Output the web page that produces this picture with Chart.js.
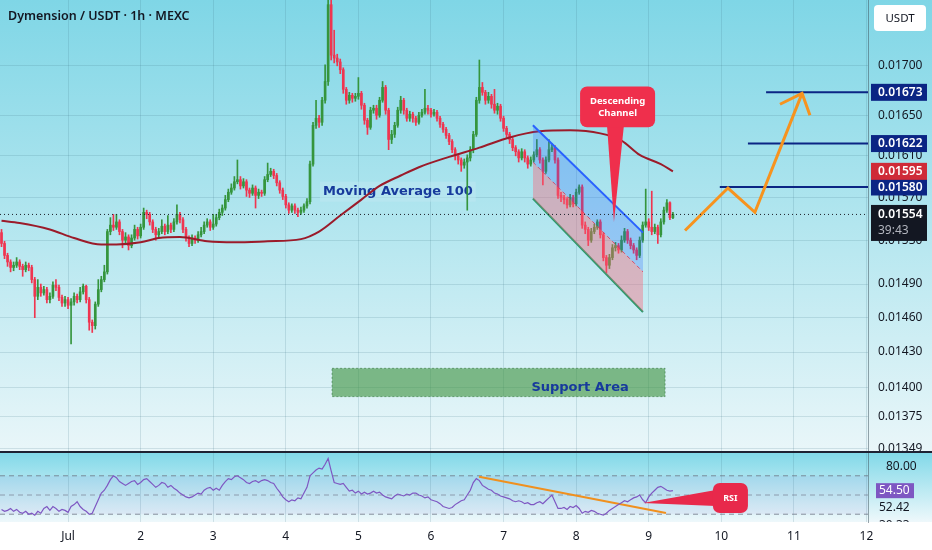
<!DOCTYPE html>
<html>
<head>
<meta charset="utf-8">
<title>Dymension / USDT 1h</title>
<script src="https://cdn.jsdelivr.net/npm/chart.js@4.4.1/dist/chart.umd.min.js"></script>
<style>
  html, body { margin: 0; padding: 0; background: #fff; }
  #wrap { position: relative; width: 932px; height: 550px; overflow: hidden; }
  #pricePane { position: absolute; left: 0; top: 0; width: 932px; height: 451px; }
  #rsiPane { position: absolute; left: 0; top: 451px; width: 932px; height: 99px; }
</style>
</head>
<body>
<div id="wrap">
  <div id="pricePane"><canvas id="priceChart"></canvas></div>
  <div id="rsiPane"><canvas id="rsiChart"></canvas></div>
</div>
<script>
// time axis: hours counted from Jul 1 00:00, one candle per hour
const firstHour = -22;
const dayLabels = ['Jul', '2', '3', '4', '5', '6', '7', '8', '9', '10', '11', '12'];
const priceTicks = [0.01349, 0.01375, 0.01400, 0.01430, 0.01460, 0.01490, 0.01530, 0.01570, 0.01610, 0.01650, 0.01700];

// candles, prices in 1e-5 USDT (open = previous close)
const firstOpenE5 = 1537;
const closeE5 = [
  1527,1516,1510,1505,1507,1510,1506,1503,1507,1505,
  1494,1479,1487,1482,1485,1476,1479,1489,1487,1478,
  1473,1476,1471,1474,1479,1476,1483,1488,1476,1456,
  1453,1472,1485,1494,1501,1538,1544,1542,1547,1538,
  1530,1533,1525,1532,1540,1534,1542,1556,1554,1547,
  1540,1535,1538,1543,1538,1544,1540,1547,1554,1549,
  1540,1532,1527,1532,1530,1535,1538,1544,1547,1542,
  1545,1551,1556,1560,1568,1575,1579,1585,1587,1581,
  1585,1577,1574,1579,1572,1575,1574,1587,1592,1595,
  1591,1584,1577,1571,1563,1558,1562,1558,1556,1558,
  1562,1566,1602,1640,1647,1643,1665,1684,1764,1711,
  1708,1704,1696,1676,1665,1670,1667,1669,1672,1660,
  1645,1638,1655,1657,1650,1665,1678,1655,1626,1631,
  1640,1655,1665,1655,1647,1651,1647,1643,1650,1653,
  1657,1655,1651,1653,1647,1641,1636,1630,1624,1616,
  1610,1606,1601,1604,1608,1616,1631,1665,1678,1673,
  1665,1669,1661,1655,1659,1647,1637,1631,1626,1618,
  1614,1608,1614,1608,1602,1606,1611,1616,1606,1595,
  1606,1616,1618,1606,1572,1570,1568,1563,1570,1564,
  1575,1580,1544,1540,1530,1538,1542,1547,1535,1514,
  1507,1514,1523,1525,1521,1530,1538,1530,1525,1521,
  1516,1530,1544,1547,1542,1538,1542,1535,1547,1558,
  1565,1551,1554
];
const highE5 = [
  1540,1529,1518,1512,1510,1514,1512,1508,1510,1509,
  1507,1496,1494,1490,1488,1487,1482,1492,1494,1489,
  1480,1479,1478,1477,1482,1481,1487,1490,1489,1478,
  1458,1474,1494,1497,1507,1540,1551,1554,1554,1549,
  1540,1537,1535,1535,1544,1542,1545,1560,1558,1556,
  1549,1542,1541,1549,1545,1553,1546,1550,1563,1556,
  1551,1542,1534,1535,1534,1538,1542,1547,1550,1549,
  1554,1554,1559,1563,1572,1578,1583,1590,1606,1590,
  1588,1587,1579,1582,1581,1578,1577,1590,1603,1598,
  1597,1593,1586,1579,1573,1565,1564,1564,1560,1561,
  1564,1569,1605,1643,1665,1650,1668,1701,1790,1790,
  1737,1712,1707,1698,1678,1673,1672,1672,1688,1674,
  1662,1647,1658,1660,1660,1668,1684,1680,1657,1635,
  1643,1658,1669,1667,1657,1654,1653,1649,1653,1656,
  1676,1660,1657,1656,1655,1649,1643,1638,1632,1626,
  1618,1612,1608,1607,1611,1619,1634,1668,1706,1683,
  1675,1673,1671,1676,1662,1661,1649,1639,1633,1628,
  1620,1616,1617,1616,1610,1609,1614,1626,1618,1608,
  1609,1626,1622,1620,1608,1575,1572,1570,1573,1572,
  1578,1582,1582,1547,1542,1541,1545,1549,1549,1537,
  1516,1517,1526,1528,1527,1534,1541,1540,1532,1527,
  1523,1533,1547,1578,1550,1576,1545,1544,1550,1561,
  1568,1566,1556
];
const lowE5 = [
  1524,1513,1506,1501,1502,1505,1503,1497,1501,1502,
  1491,1460,1476,1479,1480,1473,1473,1477,1484,1475,
  1470,1470,1468,1437,1471,1473,1474,1481,1473,1449,
  1447,1450,1470,1483,1492,1499,1535,1539,1540,1535,
  1523,1527,1521,1523,1530,1531,1532,1540,1550,1544,
  1537,1530,1533,1536,1535,1536,1537,1538,1545,1546,
  1537,1529,1524,1525,1527,1528,1533,1536,1542,1539,
  1540,1543,1549,1553,1558,1566,1573,1577,1583,1578,
  1579,1571,1570,1572,1560,1569,1571,1572,1585,1590,
  1588,1581,1574,1568,1560,1555,1556,1555,1552,1554,
  1556,1560,1564,1600,1637,1638,1640,1662,1680,1706,
  1703,1700,1692,1672,1661,1662,1663,1664,1666,1656,
  1641,1631,1636,1652,1646,1648,1663,1651,1616,1622,
  1628,1638,1652,1651,1644,1644,1643,1640,1641,1648,
  1651,1651,1648,1649,1644,1638,1633,1627,1621,1613,
  1606,1602,1595,1598,1558,1605,1613,1629,1662,1670,
  1661,1662,1657,1652,1651,1644,1634,1628,1622,1615,
  1610,1604,1606,1604,1598,1600,1604,1609,1603,1582,
  1593,1604,1614,1603,1569,1566,1564,1560,1561,1561,
  1562,1573,1541,1536,1525,1528,1536,1540,1532,1511,
  1500,1504,1512,1520,1518,1519,1528,1527,1522,1518,
  1512,1514,1528,1542,1539,1535,1536,1527,1533,1545,
  1556,1549,1550
];

// RSI(14), one value per candle
const rsi = [
  35,33,34,36,33,35,32,31,33,30,
  31,29,33,31,36,38,34,38,36,33,
  35,34,32,38,40,43,38,35,33,30,
  31,38,45,52,55,60,66,70,68,64,
  62,60,62,64,65,61,63,66,67,64,
  61,58,60,63,62,58,60,57,55,52,
  50,48,47,48,50,52,51,55,57,58,
  55,57,55,60,64,67,66,69,70,68,
  66,63,62,64,65,63,65,66,65,63,
  62,57,53,48,45,43,45,44,47,46,
  52,58,70,73,76,78,77,82,88,75,
  63,62,61,62,58,54,55,52,54,51,
  53,51,52,54,52,53,50,48,47,46,
  49,51,50,49,51,50,52,52,50,49,
  47,48,45,44,43,41,38,37,36,37,
  40,42,44,45,50,55,63,67,65,60,
  58,56,55,52,51,49,48,47,46,44,
  43,44,43,41,42,40,40,42,43,41,
  44,47,50,43,36,36,37,35,38,37,
  39,36,31,33,32,34,33,31,30,29,
  31,34,36,38,40,42,44,43,45,47,
  48,50,45,42,48,52,55,58,59,57,
  55,54,54.5
];
const rsiLevels = [70, 50, 30];
const rsiTrendHours = [135.9, 197.7];
const rsiTrendValues = [69, 31.3];

// moving average 100
const maHours = [-22, -16, -6, 2, 11, 16, 24, 30, 37, 46, 55, 66, 77, 83, 90, 97, 103, 110, 116, 126, 136, 146, 156, 166, 176, 183, 189, 196, 200];
const maValues = [0.01548, 0.01546, 0.01540, 0.01532, 0.01526, 0.01526, 0.01528, 0.01532, 0.01533, 0.01529, 0.01528, 0.01529, 0.01531, 0.01538, 0.01553, 0.01568, 0.01581, 0.01591, 0.01599, 0.01609, 0.01618, 0.01628, 0.01634, 0.01635, 0.01632, 0.01625, 0.01611, 0.01602, 0.01595];

// drawings
const channelHours = [153.7, 190.1];
const channelUpper = [0.01640, 0.01537];
const channelMid = [0.01604, 0.01501];
const channelLower = [0.01569, 0.01465];
const projHours = [204, 218.2, 227.1, 242.7];
const projValues = [0.01539, 0.01579, 0.01556, 0.01672];
const arrowHours = [235.4, 242.7, 245.3];
const arrowValues = [0.01661, 0.01672, 0.01650];
const targetPrices = [0.01673, 0.01622, 0.01580];
const targetFrom = [230.8, 224.8, 215.5];
const supportZone = { from: 87.3, to: 197.4, top: 0.01416, bottom: 0.01392, labelHour: 169.3, labelPrice: 0.01400 };
const maNote = { hour: 84.3, price: 0.015755, text: 'Moving Average 100' };
const channelNote = { from: 169.3, to: 194.1, top: 0.01679, bottom: 0.01638, stemFrom: 178.2, stemTo: 183.8, tipHour: 180.5, tipPrice: 0.01547 };
const rsiNote = { from: 213.2, to: 224.8, top: 62.5, bottom: 31.3, stemTop: 55.2, stemBottom: 38.6, tipHour: 190.1, tipValue: 41.7 };

const close = closeE5.map(v => v / 1e5);
const high = highE5.map(v => v / 1e5);
const low = lowE5.map(v => v / 1e5);
const open = close.map((c, i) => (i === 0 ? firstOpenE5 / 1e5 : close[i - 1]));
const hours = close.map((_, i) => firstHour + i);
const dayTicks = dayLabels.map((_, i) => i * 24);
const lastClose = close[close.length - 1];

const X_MIN = -22.5, X_MAX = 264.5;
const gridColor = 'rgba(60,110,130,0.17)';
const up = '#35953d', down = '#ef3550';
const navy = '#0b2584';
const barColors = close.map((c, i) => (c >= open[i] ? up : down));

Chart.defaults.font.family = "'Noto Sans', 'DejaVu Sans', sans-serif";
Chart.defaults.font.size = 12;
Chart.defaults.color = '#131722';

const pts = (xs, ys) => xs.map((x, i) => ({ x, y: ys[i] }));
const hline = (from, to, v) => [{ x: from, y: v }, { x: to, y: v }];
const lineSet = (data, color, width, extra) => Object.assign({
  type: 'line', data, borderColor: color, borderWidth: width,
  pointRadius: 0, pointHoverRadius: 0, fill: false, tension: 0
}, extra);

function rrect(ctx, x, y, w, h, r) {
  ctx.beginPath();
  ctx.moveTo(x + r, y);
  ctx.arcTo(x + w, y, x + w, y + h, r);
  ctx.arcTo(x + w, y + h, x, y + h, r);
  ctx.arcTo(x, y + h, x, y, r);
  ctx.arcTo(x, y, x + w, y, r);
  ctx.closePath();
}

const paneBg = {
  id: 'paneBg',
  beforeDraw(chart, args, o) {
    const { ctx, width, height, chartArea } = chart;
    ctx.save();
    ctx.fillStyle = o.base;
    ctx.fillRect(0, 0, width, height);
    const g = ctx.createLinearGradient(0, 0, 0, chartArea.bottom);
    o.stops.forEach(s => g.addColorStop(s[0], s[1]));
    ctx.fillStyle = g;
    ctx.fillRect(0, 0, width, chartArea.bottom);
    ctx.restore();
  }
};

function axisTag(ctx, area, yPix, bg, text) {
  ctx.fillStyle = bg;
  ctx.fillRect(area.right + 3, yPix - 8.5, 56, 17);
  ctx.fillStyle = '#ffffff';
  ctx.font = "600 12px 'Noto Sans'";
  ctx.textAlign = 'left';
  ctx.textBaseline = 'middle';
  ctx.fillText(text, area.right + 10, yPix + 0.5);
}

const priceOverlay = {
  id: 'priceOverlay',
  beforeDatasetsDraw(chart) {
    const { ctx, scales: { x, y } } = chart;
    ctx.save();
    // support area
    const sx0 = x.getPixelForValue(supportZone.from), sx1 = x.getPixelForValue(supportZone.to);
    const sy0 = y.getPixelForValue(supportZone.top), sy1 = y.getPixelForValue(supportZone.bottom);
    ctx.fillStyle = 'rgba(60,145,60,0.6)';
    ctx.fillRect(sx0, sy0, sx1 - sx0, sy1 - sy0);
    ctx.setLineDash([2, 2]);
    ctx.strokeStyle = 'rgba(40,110,50,0.55)';
    ctx.lineWidth = 1;
    ctx.strokeRect(sx0, sy0, sx1 - sx0, sy1 - sy0);
    ctx.setLineDash([]);
    ctx.font = "bold 13px 'DejaVu Sans'";
    ctx.fillStyle = '#173a9c';
    ctx.textAlign = 'center';
    ctx.textBaseline = 'middle';
    ctx.fillText('Support Area', x.getPixelForValue(supportZone.labelHour), y.getPixelForValue(supportZone.labelPrice));
    // MA label
    const mx = x.getPixelForValue(maNote.hour), my = y.getPixelForValue(maNote.price);
    const tw = ctx.measureText(maNote.text).width;
    ctx.fillStyle = 'rgba(190,232,242,0.55)';
    ctx.fillRect(mx - 3, my - 10, tw + 6, 20);
    ctx.fillStyle = '#173a9c';
    ctx.textAlign = 'left';
    ctx.fillText(maNote.text, mx, my);
    ctx.restore();
  },
  afterDatasetsDraw(chart) {
    const { ctx, scales: { x, y } } = chart;
    const n = channelNote;
    const bx0 = x.getPixelForValue(n.from), bx1 = x.getPixelForValue(n.to);
    const by0 = y.getPixelForValue(n.top), by1 = y.getPixelForValue(n.bottom);
    ctx.save();
    ctx.fillStyle = '#ef2f4c';
    ctx.beginPath();
    ctx.moveTo(x.getPixelForValue(n.stemFrom), by1 - 2);
    ctx.lineTo(x.getPixelForValue(n.tipHour), y.getPixelForValue(n.tipPrice));
    ctx.lineTo(x.getPixelForValue(n.stemTo), by1 - 2);
    ctx.closePath();
    ctx.fill();
    rrect(ctx, bx0, by0, bx1 - bx0, by1 - by0, 7);
    ctx.fill();
    ctx.fillStyle = '#ffffff';
    ctx.font = "bold 9.5px 'Noto Sans'";
    ctx.textAlign = 'center';
    ctx.textBaseline = 'middle';
    const cx = (bx0 + bx1) / 2;
    ctx.fillText('Descending', cx, by0 + 15);
    ctx.fillText('Channel', cx, by0 + 27);
    ctx.restore();
  },
  afterDraw(chart) {
    const { ctx, chartArea, scales: { y }, width } = chart;
    ctx.save();
    targetPrices.forEach(p => axisTag(ctx, chartArea, y.getPixelForValue(p), navy, p.toFixed(5)));
    const maLast = maValues[maValues.length - 1];
    axisTag(ctx, chartArea, y.getPixelForValue(maLast), '#cf2b38', maLast.toFixed(5));
    // last price with bar countdown
    const ly = y.getPixelForValue(lastClose);
    ctx.fillStyle = '#131722';
    ctx.fillRect(chartArea.right + 3, ly - 9.5, 56, 36);
    ctx.fillStyle = '#ffffff';
    ctx.font = "600 12px 'Noto Sans'";
    ctx.textAlign = 'left';
    ctx.textBaseline = 'middle';
    ctx.fillText(lastClose.toFixed(5), chartArea.right + 10, ly);
    ctx.fillStyle = '#b2b5be';
    ctx.font = "12px 'Noto Sans'";
    ctx.fillText('39:43', chartArea.right + 10, ly + 16);
    // currency button
    ctx.fillStyle = '#ffffff';
    rrect(ctx, chartArea.right + 6, 5, 52, 26, 4);
    ctx.fill();
    ctx.fillStyle = '#131722';
    ctx.textAlign = 'center';
    ctx.font = "11.5px 'Noto Sans'";
    ctx.fillText('USDT', chartArea.right + 32, 18.5);
    // title
    ctx.textAlign = 'left';
    ctx.font = "600 12.5px 'Noto Sans'";
    ctx.fillText('Dymension / USDT \u00b7 1h \u00b7 MEXC', 8, 16);
    ctx.restore();
  }
};

const rsiOverlay = {
  id: 'rsiOverlay',
  afterDatasetsDraw(chart) {
    const { ctx, scales: { x, y } } = chart;
    const n = rsiNote;
    const bx0 = x.getPixelForValue(n.from), bx1 = x.getPixelForValue(n.to);
    const by0 = y.getPixelForValue(n.top), by1 = y.getPixelForValue(n.bottom);
    ctx.save();
    ctx.fillStyle = '#e8294b';
    ctx.beginPath();
    ctx.moveTo(x.getPixelForValue(n.tipHour), y.getPixelForValue(n.tipValue));
    ctx.lineTo(bx0 + 3, y.getPixelForValue(n.stemTop));
    ctx.lineTo(bx0 + 3, y.getPixelForValue(n.stemBottom));
    ctx.closePath();
    ctx.fill();
    rrect(ctx, bx0, by0, bx1 - bx0, by1 - by0, 7);
    ctx.fill();
    ctx.fillStyle = '#ffffff';
    ctx.font = "bold 9px 'Noto Sans'";
    ctx.textAlign = 'center';
    ctx.textBaseline = 'middle';
    ctx.fillText('RSI', (bx0 + bx1) / 2, (by0 + by1) / 2);
    ctx.restore();
  },
  afterDraw(chart) {
    const { ctx, chartArea, scales: { y }, width } = chart;
    ctx.save();
    ctx.fillStyle = '#ffffff';
    ctx.fillRect(chartArea.right + 5, chartArea.bottom + 1, width, 40);
    const last = rsi[rsi.length - 1];
    const ty = y.getPixelForValue(last);
    ctx.fillStyle = '#7e57c2';
    ctx.fillRect(chartArea.right + 8, ty - 7.5, 38, 15);
    ctx.fillStyle = '#ffffff';
    ctx.font = "12px 'Noto Sans'";
    ctx.textAlign = 'left';
    ctx.textBaseline = 'middle';
    ctx.fillText(last.toFixed(2), chartArea.right + 11, ty);
    ctx.fillStyle = '#131722';
    ctx.fillText('52.42', chartArea.right + 11, ty + 17);
    ctx.beginPath();
    ctx.rect(chartArea.right + 1, 0, 64, chartArea.bottom);
    ctx.clip();
    ctx.fillText('30.33', chartArea.right + 11, ty + 35);
    ctx.restore();
    ctx.save();
    ctx.strokeStyle = '#1e2233';
    ctx.lineWidth = 2;
    ctx.beginPath();
    ctx.moveTo(0, 1);
    ctx.lineTo(width, 1);
    ctx.stroke();
    ctx.restore();
  }
};

const xCommon = {
  type: 'linear', min: X_MIN, max: X_MAX, bounds: 'data', offset: false,
  afterBuildTicks: s => { s.ticks = dayTicks.map(v => ({ value: v })); },
  grid: { color: gridColor, drawTicks: false, offset: false },
  border: { display: false }
};

new Chart(document.getElementById('priceChart'), {
  type: 'bar',
  data: {
    datasets: [
      { type: 'bar', data: hours.map((h, i) => ({ x: h, y: [low[i], high[i]] })), backgroundColor: barColors, barThickness: 1, grouped: false, order: 10 },
      { type: 'bar', data: hours.map((h, i) => ({ x: h, y: [open[i], close[i]] })), backgroundColor: barColors, barThickness: 2, minBarLength: 1, grouped: false, order: 9 },
      lineSet(pts(maHours, maValues), '#9b1b2a', 2, { cubicInterpolationMode: 'monotone', order: 6 }),
      lineSet(hline(X_MIN, X_MAX, lastClose), '#1b1e27', 1, { borderDash: [1, 3], order: 1 }),
      lineSet(pts(channelHours, channelUpper), '#2962ff', 2, { fill: '+1', backgroundColor: 'rgba(41,98,255,0.25)', order: 4 }),
      lineSet(pts(channelHours, channelMid), 'rgba(242,54,69,0.85)', 1, { borderDash: [4, 3], fill: '+1', backgroundColor: 'rgba(250,100,120,0.4)', order: 4 }),
      lineSet(pts(channelHours, channelLower), '#1f9d6b', 2, { order: 4 }),
      lineSet(pts(projHours, projValues), '#f7931e', 3, { order: 2 }),
      lineSet(pts(arrowHours, arrowValues), '#f7931e', 3, { order: 2 }),
      ...targetPrices.map((p, i) => lineSet(hline(targetFrom[i], X_MAX, p), navy, 2, { order: 3 }))
    ]
  },
  options: {
    responsive: true, maintainAspectRatio: false, animation: false, events: [],
    layout: { padding: 0 },
    plugins: {
      legend: { display: false }, tooltip: { enabled: false },
      paneBg: { base: '#eaf7fa', stops: [[0, '#7fd6e6'], [0.5, '#b3e6ef'], [1, '#e9f6f9']] }
    },
    scales: {
      x: Object.assign({}, xCommon, {
        afterFit: s => { s.height = 0; s.paddingLeft = 0; s.paddingRight = 0; },
        ticks: { display: false }
      }),
      y: {
        type: 'logarithmic', position: 'right', min: 0.01347, max: 0.01769, bounds: 'data',
        afterBuildTicks: s => { s.ticks = priceTicks.map(v => ({ value: v })); },
        afterFit: s => { s.width = 64; s.paddingTop = 0; s.paddingBottom = 0; },
        ticks: { callback: v => v.toFixed(5), padding: 10, autoSkip: false, color: '#131722' },
        grid: { color: gridColor, drawTicks: false },
        border: { display: true, color: 'rgba(60,80,90,0.5)' }
      }
    }
  },
  plugins: [paneBg, priceOverlay]
});

new Chart(document.getElementById('rsiChart'), {
  type: 'line',
  data: {
    datasets: [
      lineSet(pts(hours, rsi), '#7e57c2', 1.2, { order: 1 }),
      lineSet(hline(X_MIN, X_MAX, rsiLevels[0]), 'rgba(105,112,125,0.75)', 1, { borderDash: [5, 4], fill: '+1', backgroundColor: 'rgba(126,87,194,0.07)', order: 5 }),
      lineSet(hline(X_MIN, X_MAX, rsiLevels[2]), 'rgba(105,112,125,0.75)', 1, { borderDash: [5, 4], order: 5 }),
      lineSet(hline(X_MIN, X_MAX, rsiLevels[1]), 'rgba(105,112,125,0.6)', 1, { borderDash: [5, 4], order: 5 }),
      lineSet(pts(rsiTrendHours, rsiTrendValues), '#f0901e', 2, { order: 2 })
    ]
  },
  options: {
    responsive: true, maintainAspectRatio: false, animation: false, events: [],
    layout: { padding: 0 },
    plugins: {
      legend: { display: false }, tooltip: { enabled: false },
      paneBg: { base: '#ffffff', stops: [[0, '#7fd8e8'], [1, '#eef8fb']] }
    },
    scales: {
      x: Object.assign({}, xCommon, {
        afterFit: s => { s.height = 28; s.paddingLeft = 0; s.paddingRight = 0; },
        ticks: { callback: v => dayLabels[dayTicks.indexOf(v)], autoSkip: false, maxRotation: 0, padding: 7, color: '#131722' }
      }),
      y: {
        type: 'linear', position: 'right', min: 21.9, max: 95.8, bounds: 'data',
        afterBuildTicks: s => { s.ticks = [{ value: 80 }]; },
        afterFit: s => { s.width = 64; s.paddingTop = 0; s.paddingBottom = 0; },
        ticks: { callback: v => v.toFixed(2), padding: 10, autoSkip: false, color: '#131722' },
        grid: { display: false },
        border: { display: true, color: 'rgba(60,80,90,0.5)' }
      }
    }
  },
  plugins: [paneBg, rsiOverlay]
});
</script>
</body>
</html>
